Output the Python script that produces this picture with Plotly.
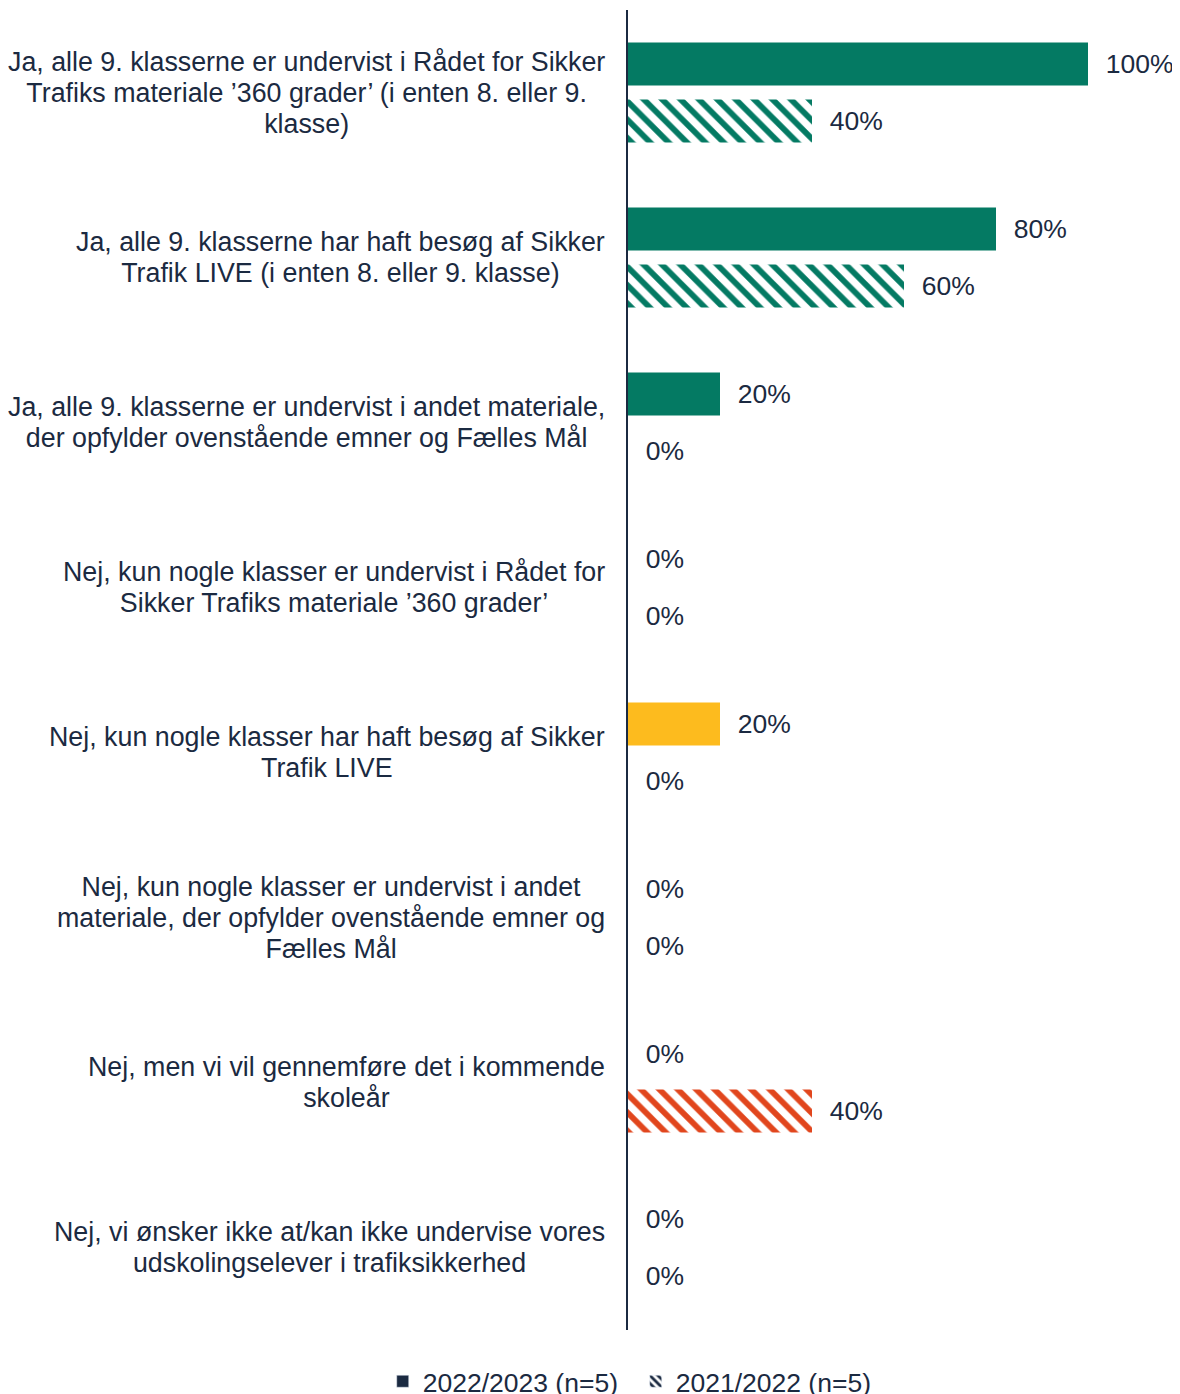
import plotly.graph_objects as go

# survey answers (top to bottom)
categories = [
    "Ja, alle 9. klasserne er undervist i Rådet for Sikker<br>Trafiks materiale ’360 grader’ (i enten 8. eller 9.<br>klasse)",
    "Ja, alle 9. klasserne har haft besøg af Sikker<br>Trafik LIVE (i enten 8. eller 9. klasse)",
    "Ja, alle 9. klasserne er undervist i andet materiale,<br>der opfylder ovenstående emner og Fælles Mål",
    "Nej, kun nogle klasser er undervist i Rådet for<br>Sikker Trafiks materiale ’360 grader’",
    "Nej, kun nogle klasser har haft besøg af Sikker<br>Trafik LIVE",
    "Nej, kun nogle klasser er undervist i andet<br>materiale, der opfylder ovenstående emner og<br>Fælles Mål",
    "Nej, men vi vil gennemføre det i kommende<br>skoleår",
    "Nej, vi ønsker ikke at/kan ikke undervise vores<br>udskolingselever i trafiksikkerhed",
]
series_names = ["2022/2023 (n=5)", "2021/2022 (n=5)"]
values_2223 = [100, 80, 20, 0, 20, 0, 0, 0]
values_2122 = [40, 60, 0, 0, 0, 0, 40, 0]

GREEN = "#047A63"
YELLOW = "#FDBB1E"
ORANGE = "#E1461D"
NAVY = "#1B2A41"
colors_2223 = [GREEN, GREEN, GREEN, GREEN, YELLOW, GREEN, GREEN, GREEN]
colors_2122 = [GREEN, GREEN, GREEN, GREEN, GREEN, GREEN, ORANGE, GREEN]

font = "Liberation Sans, Arial, sans-serif"
FS = 26.5
fig = go.Figure()

fig.add_trace(go.Bar(
    y=categories, x=values_2223, orientation="h", name=series_names[0],
    offsetgroup="a", showlegend=False,
    marker=dict(color=colors_2223, line=dict(width=0)),
    texttemplate="  %{x}%", textposition="outside", cliponaxis=False,
    textfont=dict(size=FS, color=NAVY, family=font),
))
fig.add_trace(go.Bar(
    y=categories, x=values_2122, orientation="h", name=series_names[1],
    offsetgroup="b", showlegend=False,
    marker=dict(color=colors_2122, line=dict(width=0),
                pattern=dict(shape="\\", fgcolor=colors_2122, bgcolor="white",
                             size=13, solidity=0.45, fillmode="replace")),
    texttemplate="  %{x}%", textposition="outside", cliponaxis=False,
    textfont=dict(size=FS, color=NAVY, family=font),
))

# legend-only entries in navy
fig.add_trace(go.Bar(
    y=[None], x=[None], orientation="h", name=series_names[0], offsetgroup="a",
    marker=dict(color=NAVY),
))
fig.add_trace(go.Bar(
    y=[None], x=[None], orientation="h", name=series_names[1], offsetgroup="b",
    marker=dict(color=NAVY, pattern=dict(shape="\\", fgcolor=NAVY, bgcolor="white",
                                         size=7, solidity=0.5, fillmode="replace")),
))

# category labels: right-aligned block, lines centred within it.
# base font sets the (tighter) line spacing, the span sets the glyph size
for c in categories:
    txt = "<br>".join("<span style='font-size:26.8px'>%s</span>" % ln for ln in c.split("<br>"))
    fig.add_annotation(
        x=0, xref="paper", y=c, yref="y", xanchor="right", xshift=-21,
        yanchor="middle", text=txt, showarrow=False, align="center",
        font=dict(size=23.85, color=NAVY, family=font),
    )

fig.update_layout(
    width=1172, height=1386,
    margin=dict(l=620, r=0, t=2, b=64),
    paper_bgcolor="white", plot_bgcolor="white",
    barmode="group", bargap=0.31, bargroupgap=0.245,
    font=dict(family=font, size=FS, color=NAVY),
    legend=dict(orientation="h", xref="container", yref="container",
                x=0.5356, y=0.009, xanchor="center", yanchor="middle",
                font=dict(size=FS, color=NAVY), itemwidth=30, entrywidth=208),
    xaxis=dict(range=[0, 120], visible=False),
    yaxis=dict(autorange="reversed", showticklabels=False, showgrid=False,
               showline=True, linecolor=NAVY, linewidth=2, ticks=""),
)

fig.write_html("out.html")
